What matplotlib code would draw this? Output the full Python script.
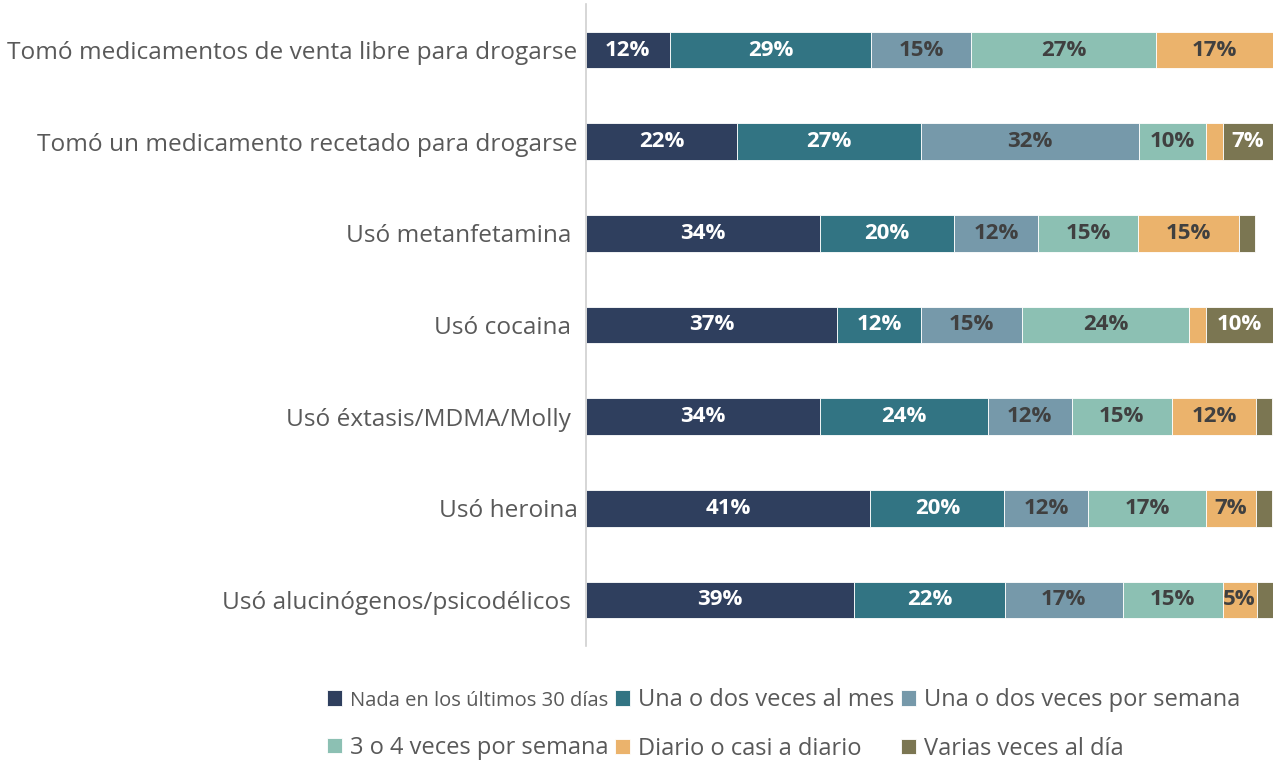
import numpy as np
import matplotlib
matplotlib.use('Agg')
import matplotlib.pyplot as plt

categories = [
    'Tomó medicamentos de venta libre para drogarse',
    'Tomó un medicamento recetado para drogarse',
    'Usó metanfetamina ',
    'Usó cocaina ',
    'Usó éxtasis/MDMA/Molly ',
    'Usó heroina',
    'Usó alucinógenos/psicodélicos ',
]

series_names = [
    'Nada en los últimos 30 días',
    'Una o dos veces al mes',
    'Una o dos veces por semana',
    '3 o 4 veces por semana',
    'Diario o casi a diario',
    'Varias veces al día',
]

nada = [12.2, 22.0, 34.1, 36.6, 34.1, 41.4, 39.0]
mes = [29.3, 26.8, 19.5, 12.2, 24.4, 19.5, 22.0]
semana = [14.6, 31.7, 12.2, 14.6, 12.2, 12.2, 17.1]
tres_cuatro = [26.8, 9.8, 14.6, 24.4, 14.6, 17.1, 14.6]
diario = [17.1, 2.4, 14.6, 2.4, 12.2, 7.3, 4.9]
varias = [0.0, 7.3, 2.4, 9.8, 2.4, 2.4, 2.4]

colors = ['#2f3f5e', '#327483', '#7699aa', '#8cc0b3', '#ebb36c', '#7b7652']
label_colors = ['white', 'white', '#404040', '#404040', '#404040', 'white']

data = np.array([nada, mes, semana, tres_cuatro, diario, varias])

fig = plt.figure(figsize=(12.73, 7.66), dpi=100)
ax = fig.add_axes([0.4603, 0.157, 0.5397, 0.8375])

y = np.arange(len(categories))
left = np.zeros(len(categories))
handles = []
for i, vals in enumerate(data):
    bars = ax.barh(y, vals, left=left, height=0.4, color=colors[i],
                   edgecolor='white', linewidth=0.6, label=series_names[i])
    handles.append(bars)
    for j, v in enumerate(vals):
        if v >= 4:
            ax.text(left[j] + v / 2, y[j], f'{v:.0f}%', ha='center', va='center',
                    color=label_colors[i], fontsize=16, fontweight='bold',
                    family='Open Sans')
    left += vals

ax.set_xlim(0, 100)
ax.set_ylim(len(categories) - 0.5, -0.5)
ax.set_yticks(y)
ax.set_yticklabels(categories, fontsize=17.6, color='#595959', family='Open Sans')
ax.tick_params(axis='y', length=0, pad=6)
ax.set_xticks([])
for s in ['top', 'right', 'bottom']:
    ax.spines[s].set_visible(False)
ax.spines['left'].set_color('#d0d0d0')
ax.spines['left'].set_linewidth(1.2)

order = [0, 3, 1, 4, 2, 5]
leg = fig.legend([handles[k] for k in order], [series_names[k] for k in order],
                 ncol=3, loc='lower left', bbox_to_anchor=(0.240, -0.021),
                 frameon=False, handlelength=0.65, handleheight=0.65,
                 handletextpad=0.35, columnspacing=0.25, labelspacing=1.05,
                 prop={'family': 'Open Sans', 'size': 17.0})
for t in leg.get_texts():
    t.set_color('#595959')
leg.get_texts()[0].set_fontsize(14.5)

fig.savefig('out.png', dpi=100)
